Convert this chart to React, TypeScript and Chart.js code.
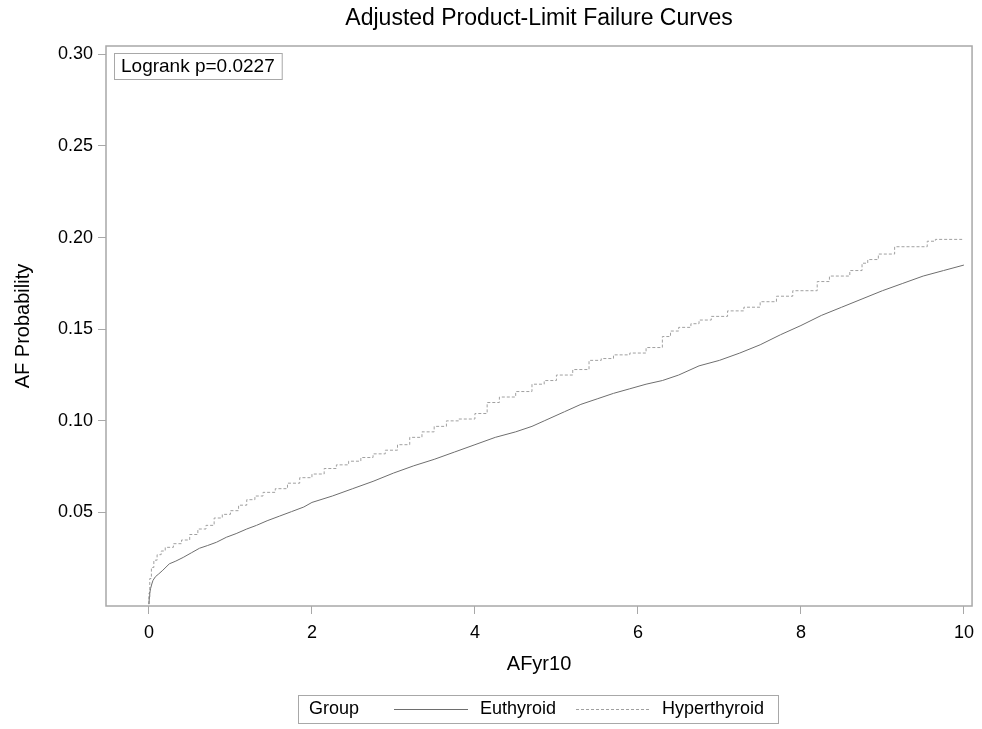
import React, { useEffect, useRef } from "react";
import { Chart, registerables } from "chart.js";

Chart.register(...registerables);

const CHART_TITLE = "Adjusted Product-Limit Failure Curves";
const X_TITLE = "AFyr10";
const Y_TITLE = "AF Probability";
const LOGRANK_TEXT = "Logrank p=0.0227";
const LEGEND_TITLE = "Group";
const SERIES_NAMES = ["Euthyroid", "Hyperthyroid"];

const X_TICKS = [0, 2, 4, 6, 8, 10];
const Y_TICKS = [0.05, 0.1, 0.15, 0.2, 0.25, 0.3];

const EU_TIME = [0, 0.005, 0.01, 0.02, 0.035, 0.05, 0.08, 0.12, 0.17, 0.25, 0.33, 0.42, 0.52, 0.62, 0.72, 0.83, 0.95, 1.07, 1.2, 1.32, 1.45, 1.6, 1.75, 1.9, 2.0, 2.25, 2.5, 2.75, 3.0, 3.25, 3.5, 3.75, 4.0, 4.25, 4.5, 4.7, 4.85, 5.1, 5.3, 5.5, 5.7, 5.9, 6.1, 6.3, 6.5, 6.75, 7.0, 7.25, 7.5, 7.75, 8.0, 8.25, 8.5, 8.75, 9.0, 9.25, 9.5, 9.75, 10.0];
const EU_PROB = [0, 0.004, 0.006, 0.0085, 0.011, 0.013, 0.015, 0.0165, 0.0185, 0.022, 0.0235, 0.0255, 0.028, 0.0305, 0.032, 0.0338, 0.0365, 0.0385, 0.041, 0.043, 0.0455, 0.048, 0.0505, 0.053, 0.0555, 0.059, 0.063, 0.067, 0.0715, 0.0755, 0.079, 0.083, 0.087, 0.091, 0.094, 0.097, 0.1, 0.105, 0.109, 0.112, 0.115, 0.1175, 0.12, 0.122, 0.125, 0.13, 0.133, 0.137, 0.1415, 0.147, 0.152, 0.1575, 0.162, 0.1665, 0.171, 0.175, 0.179, 0.182, 0.185];

const HY_TIME = [0, 0.01, 0.03, 0.06, 0.1, 0.15, 0.2, 0.3, 0.4, 0.5, 0.6, 0.7, 0.8, 0.9, 1.0, 1.1, 1.2, 1.3, 1.4, 1.55, 1.7, 1.85, 2.0, 2.15, 2.3, 2.45, 2.6, 2.75, 2.9, 3.05, 3.2, 3.35, 3.5, 3.65, 3.8, 4.0, 4.15, 4.3, 4.5, 4.7, 4.85, 5.0, 5.2, 5.4, 5.55, 5.7, 5.9, 6.1, 6.3, 6.4, 6.5, 6.65, 6.75, 6.9, 7.1, 7.3, 7.5, 7.7, 7.9, 8.2, 8.35, 8.6, 8.75, 8.82, 8.95, 9.15, 9.55, 9.65, 9.95, 10.0];
const HY_PROB = [0, 0.006, 0.014, 0.02, 0.024, 0.027, 0.029, 0.031, 0.033, 0.035, 0.038, 0.041, 0.043, 0.047, 0.049, 0.051, 0.054, 0.057, 0.059, 0.061, 0.063, 0.066, 0.069, 0.071, 0.074, 0.076, 0.078, 0.08, 0.082, 0.084, 0.087, 0.091, 0.094, 0.097, 0.1, 0.101, 0.104, 0.11, 0.113, 0.116, 0.12, 0.122, 0.125, 0.128, 0.133, 0.134, 0.136, 0.137, 0.14, 0.146, 0.149, 0.151, 0.153, 0.155, 0.157, 0.16, 0.162, 0.165, 0.168, 0.171, 0.176, 0.179, 0.182, 0.186, 0.188, 0.191, 0.195, 0.198, 0.199, 0.199];

const FONT = "'Liberation Sans', Arial, sans-serif";
const EU_COLOR = "#6e6e6e";
const HY_COLOR = "#a0a0a0";
const FRAME_COLOR = "#a8a8a8";

const decorPlugin = {
  id: "decor",
  afterDraw(chart: any) {
    const ctx = chart.ctx;
    const ca = chart.chartArea;
    ctx.save();
    ctx.strokeStyle = FRAME_COLOR;
    ctx.lineWidth = 1.5;
    ctx.strokeRect(ca.left, ca.top, ca.right - ca.left, ca.bottom - ca.top);
    ctx.fillStyle = "#000";
    ctx.font = `23px ${FONT}`;
    ctx.textAlign = "center";
    ctx.textBaseline = "middle";
    ctx.fillText(CHART_TITLE, (ca.left + ca.right) / 2, 19);
    ctx.font = `19px ${FONT}`;
    ctx.textAlign = "left";
    const lw = ctx.measureText(LOGRANK_TEXT).width;
    ctx.strokeStyle = FRAME_COLOR;
    ctx.lineWidth = 1;
    ctx.strokeRect(ca.left + 8.5, ca.top + 7.5, lw + 14, 26);
    ctx.fillText(LOGRANK_TEXT, ca.left + 15, ca.top + 21);
    const ly = 709;
    ctx.font = `18px ${FONT}`;
    ctx.strokeStyle = FRAME_COLOR;
    ctx.strokeRect(298.5, 695.5, 480, 28);
    ctx.fillText(LEGEND_TITLE, 309, ly);
    ctx.fillText(SERIES_NAMES[0], 480, ly);
    ctx.fillText(SERIES_NAMES[1], 662, ly);
    ctx.lineWidth = 1;
    ctx.strokeStyle = EU_COLOR;
    ctx.beginPath();
    ctx.moveTo(394, ly + 0.5);
    ctx.lineTo(468, ly + 0.5);
    ctx.stroke();
    ctx.strokeStyle = HY_COLOR;
    ctx.setLineDash([3, 2]);
    ctx.beginPath();
    ctx.moveTo(576, ly + 0.5);
    ctx.lineTo(649, ly + 0.5);
    ctx.stroke();
    ctx.setLineDash([]);
    ctx.restore();
  },
};

export default function App() {
  const ref = useRef<HTMLCanvasElement | null>(null);
  useEffect(() => {
    document.body.style.margin = "0";
    const canvas = ref.current;
    if (!canvas) return;
    const chart = new Chart(canvas, {
      type: "line",
      data: {
        datasets: [
          {
            label: SERIES_NAMES[0],
            data: EU_TIME.map((t, i) => ({ x: t, y: EU_PROB[i] })),
            borderColor: EU_COLOR,
            borderWidth: 1,
            pointRadius: 0,
            tension: 0,
            fill: false,
          },
          {
            label: SERIES_NAMES[1],
            data: HY_TIME.map((t, i) => ({ x: t, y: HY_PROB[i] })),
            borderColor: HY_COLOR,
            borderWidth: 1,
            borderDash: [3, 2],
            pointRadius: 0,
            stepped: "after",
            fill: false,
          },
        ],
      },
      options: {
        animation: false,
        responsive: false,
        devicePixelRatio: 1,
        layout: { padding: { top: 46, right: 9, bottom: 53, left: 0 } },
        plugins: {
          legend: { display: false },
          title: { display: false },
          tooltip: { enabled: false },
        },
        scales: {
          x: {
            type: "linear",
            min: -0.527,
            max: 10.1,
            afterBuildTicks: (s: any) => {
              s.ticks = X_TICKS.map((v) => ({ value: v }));
            },
            afterFit: (s: any) => {
              s.height = 70;
            },
            grid: { drawOnChartArea: false, drawTicks: true, tickLength: 8, color: FRAME_COLOR },
            border: { display: false },
            ticks: { font: { size: 18, family: FONT }, color: "#000", padding: 8, maxRotation: 0 },
            title: { display: true, text: X_TITLE, font: { size: 20, family: FONT }, color: "#000", padding: { top: 0, bottom: 0 } },
          },
          y: {
            type: "linear",
            min: -0.001,
            max: 0.3045,
            afterBuildTicks: (s: any) => {
              s.ticks = Y_TICKS.map((v) => ({ value: v }));
            },
            afterFit: (s: any) => {
              s.width = 106;
            },
            grid: { drawOnChartArea: false, drawTicks: true, tickLength: 8, color: FRAME_COLOR },
            border: { display: false },
            ticks: {
              font: { size: 18, family: FONT },
              color: "#000",
              padding: 5,
              callback: (v: any) => Number(v).toFixed(2),
            },
            title: { display: true, text: Y_TITLE, font: { size: 20, family: FONT }, color: "#000", padding: { top: 11, bottom: 0 } },
          },
        },
      },
      plugins: [decorPlugin],
    });
    return () => chart.destroy();
  }, []);
  return (
    <div style={{ position: "absolute", left: 0, top: 0, width: 982, height: 729, background: "#fff" }}>
      <canvas ref={ref} width={982} height={729} />
    </div>
  );
}
